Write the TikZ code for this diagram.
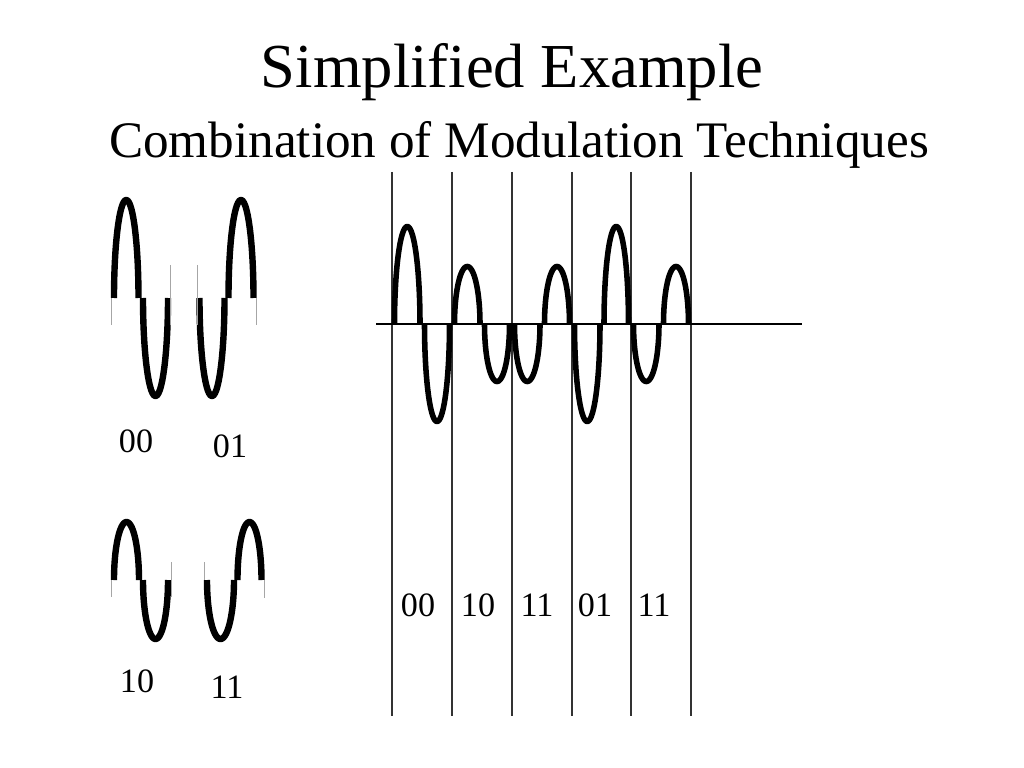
\documentclass[tikz,border=0pt]{standalone}
\usepackage{fontspec}
\setmainfont{Liberation Serif}
% half-ellipse lobe from x=#2 to x=#3 (stroke centres), baseline #4, amplitude #5 (positive = up)
\newcommand\wavehalf[5][wave]{%
  \draw[#1] plot[domain=0:180,samples=60,smooth] ({(#2+#3)/2-(#3-#2)/2*cos(\x)},{#4-#5*sin(\x)});}
\tikzset{
  wave/.style={line width=4.5pt,line cap=butt,line join=round},
  rwave/.style={line width=3.9pt,line cap=butt,line join=round},
  stub/.style={line width=0.6pt,black!35},
  grid/.style={line width=0.8pt,black!80},
  axis/.style={line width=1.5pt},
  lab/.style={font=\fontsize{24}{26}\selectfont,inner sep=0pt},
}
\begin{document}
\begin{tikzpicture}[x=0.703125pt,y=-0.703125pt]
\useasboundingbox (0,0) rectangle (1024,768);
% titles
\node[font=\fontsize{44}{48}\selectfont,anchor=base] (title) at (512,88) {Simplified Example};
\node[font=\fontsize{36}{40}\selectfont,anchor=base] (sub) at (519,158) {Combination of Modulation Techniques};
% ---- legend 00
\wavehalf{114}{138.5}{298}{98}
\wavehalf{143}{168}{298}{-98}
\draw[stub] (111,298) -- (111,325);
\draw[stub] (170.5,265) -- (170.5,325);
\node[lab] (l00) at (136,441) {00};
% ---- legend 01
\wavehalf{199.5}{224.5}{298}{-98}
\wavehalf{228.5}{253.5}{298}{98}
\draw[stub] (197,265) -- (197,325);
\draw[stub] (256.5,298) -- (256.5,325);
\node[lab] (l01) at (230,446) {01};
% ---- legend 10
\wavehalf{114}{139}{580}{58}
\wavehalf{143}{168}{580}{-59}
\draw[stub] (111,580) -- (111,597);
\draw[stub] (171,562) -- (171,597);
\node[lab] (l10) at (137,681) {10};
% ---- legend 11
\wavehalf{207}{234}{580}{-59}
\wavehalf{237.5}{261.5}{580}{58}
\draw[stub] (204,562) -- (204,580);
\draw[stub] (264.5,580) -- (264.5,598);
\node[lab] (l11) at (227,687) {11};
% ---- right: grid
\foreach \xx in {392,452,512,572,631,691} \draw[grid] (\xx,172) -- (\xx,716);
\coordinate (axL) at (376,324);
\coordinate (axR) at (802,324);
\draw[axis] (axL) -- (axR);
% cell 1: 00
\wavehalf[rwave]{394.5}{420}{324}{97.5}
\wavehalf[rwave]{424.5}{449.5}{324}{-97.5}
% cell 2: 10
\wavehalf[rwave]{454.5}{480}{324}{57.5}
\wavehalf[rwave]{484.5}{509.5}{324}{-57.5}
% cell 3: 11
\wavehalf[rwave]{514.5}{540}{324}{-57.5}
\wavehalf[rwave]{544.5}{569.5}{324}{57.5}
% cell 4: 01
\wavehalf[rwave]{574.5}{600}{324}{-97.5}
\wavehalf[rwave]{604}{628.5}{324}{97.5}
% cell 5: 11
\wavehalf[rwave]{633.5}{659}{324}{-57.5}
\wavehalf[rwave]{663.5}{688.5}{324}{57.5}
% labels
\node[lab] (r1) at (418,605) {00};
\node[lab] (r2) at (478,605) {10};
\node[lab] (r3) at (537,605) {11};
\node[lab] (r4) at (595,605) {01};
\node[lab] (r5) at (654,605) {11};
\end{tikzpicture}
\end{document}
